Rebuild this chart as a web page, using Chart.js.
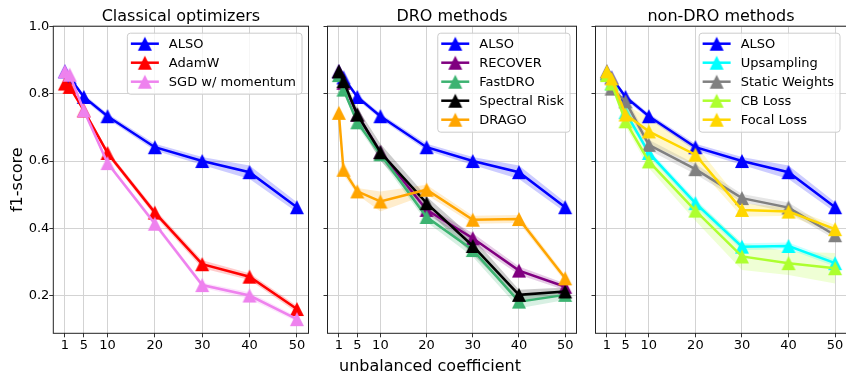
<!DOCTYPE html>
<html>
<head>
<meta charset="utf-8">
<script src="https://cdn.jsdelivr.net/npm/chart.js@4.4.0/dist/chart.umd.min.js"></script>
<style>
  html, body { margin: 0; padding: 0; background: #fff; overflow: hidden; }
  #wrap { position: relative; width: 846px; height: 377px; overflow: hidden; }
  .panel { position: absolute; top: 0; height: 377px; }
  #xlabel { position: absolute; left: 430px; top: 356px; transform: translateX(-50%);
            font: 16px "DejaVu Sans"; line-height: 20px; white-space: nowrap; color: #000; }
</style>
</head>
<body>
<div id="wrap">
  <div class="panel" style="left:0;width:318px"><canvas id="c1" width="318" height="377"></canvas></div>
  <div class="panel" style="left:318px;width:268px"><canvas id="c2" width="268" height="377"></canvas></div>
  <div class="panel" style="left:586px;width:270px"><canvas id="c3" width="270" height="377"></canvas></div>
  <div id="xlabel">unbalanced coefficient</div>
</div>
<script>
// x positions (unbalanced coefficient) and axis ticks
const xValues = [1, 2, 5, 10, 20, 30, 40, 50];
const xTicks = [1, 5, 10, 20, 30, 40, 50];
const yTicks = [0.2, 0.4, 0.6, 0.8, 1.0];

// mean f1-score and spread
const alsoMean   = [0.866, 0.848, 0.790, 0.733, 0.641, 0.600, 0.567, 0.463];
const alsoStd    = [0.005, 0.005, 0.008, 0.008, 0.010, 0.012, 0.020, 0.015];
const adamwMean  = [0.830, 0.820, 0.750, 0.624, 0.447, 0.294, 0.257, 0.161];
const adamwStd   = [0.005, 0.005, 0.008, 0.008, 0.010, 0.012, 0.010, 0.010];
const sgdMean    = [0.866, 0.856, 0.750, 0.594, 0.414, 0.232, 0.201, 0.131];
const sgdStd     = [0.005, 0.005, 0.006, 0.006, 0.008, 0.008, 0.010, 0.008];

const recoverMean  = [0.866, 0.832, 0.737, 0.627, 0.455, 0.371, 0.275, 0.227];
const recoverStd   = [0.005, 0.006, 0.010, 0.010, 0.012, 0.015, 0.012, 0.010];
const fastdroMean  = [0.855, 0.812, 0.715, 0.620, 0.434, 0.336, 0.183, 0.203];
const fastdroStd   = [0.005, 0.008, 0.012, 0.015, 0.015, 0.020, 0.020, 0.015];
const spectralMean = [0.866, 0.837, 0.738, 0.626, 0.475, 0.348, 0.203, 0.213];
const spectralStd  = [0.005, 0.008, 0.020, 0.025, 0.020, 0.025, 0.015, 0.012];
const dragoMean    = [0.743, 0.574, 0.510, 0.480, 0.515, 0.426, 0.428, 0.252];
const dragoStd     = [0.010, 0.015, 0.010, 0.030, 0.015, 0.012, 0.012, 0.010];

const upsampleMean = [0.860, 0.830, 0.745, 0.624, 0.475, 0.346, 0.348, 0.297];
const upsampleStd  = [0.005, 0.008, 0.010, 0.010, 0.012, 0.010, 0.010, 0.010];
const staticMean   = [0.860, 0.815, 0.777, 0.648, 0.576, 0.490, 0.462, 0.380];
const staticStd    = [0.005, 0.010, 0.015, 0.015, 0.015, 0.012, 0.015, 0.012];
const cbMean       = [0.855, 0.830, 0.718, 0.599, 0.453, 0.317, 0.297, 0.282];
const cbStd        = [0.005, 0.010, 0.015, 0.020, 0.030, 0.040, 0.035, 0.045];
const focalMean    = [0.866, 0.845, 0.738, 0.688, 0.619, 0.455, 0.450, 0.398];
const focalStd     = [0.005, 0.010, 0.030, 0.040, 0.030, 0.020, 0.012, 0.012];

const panels = [
  { canvas: 'c1', title: 'Classical optimizers', yWidth: 53.3, rightPad: 4.5, showY: true,
    series: [['ALSO', alsoMean, alsoStd, '#0000ff'],
             ['AdamW', adamwMean, adamwStd, '#ff0000'],
             ['SGD w/ momentum', sgdMean, sgdStd, '#ee82ee']] },
  { canvas: 'c2', title: 'DRO methods', yWidth: 4.7, rightPad: 4.3, showY: false,
    series: [['ALSO', alsoMean, alsoStd, '#0000ff'],
             ['RECOVER', recoverMean, recoverStd, '#800080'],
             ['FastDRO', fastdroMean, fastdroStd, '#3cb371'],
             ['Spectral Risk', spectralMean, spectralStd, '#000000'],
             ['DRAGO', dragoMean, dragoStd, '#ffa500']] },
  { canvas: 'c3', title: 'non-DRO methods', yWidth: 5.3, rightPad: 6, showY: false,
    series: [['ALSO', alsoMean, alsoStd, '#0000ff'],
             ['Upsampling', upsampleMean, upsampleStd, '#00ffff'],
             ['Static Weights', staticMean, staticStd, '#808080'],
             ['CB Loss', cbMean, cbStd, '#adff2f'],
             ['Focal Loss', focalMean, focalStd, '#ffd700']] }
];

Chart.defaults.font.family = 'DejaVu Sans';
Chart.defaults.color = '#000';

function rgba(hex, a) {
  const n = parseInt(hex.slice(1), 16);
  return `rgba(${(n >> 16) & 255}, ${(n >> 8) & 255}, ${n & 255}, ${a})`;
}

// matplotlib-like '^' marker
function triangleMarker(color) {
  const c = document.createElement('canvas');
  c.width = 16; c.height = 16;
  const g = c.getContext('2d');
  g.beginPath();
  g.moveTo(8, 1); g.lineTo(15, 15); g.lineTo(1, 15); g.closePath();
  g.fillStyle = color; g.fill();
  return c;
}

// axes frame on all four sides
const framePlugin = {
  id: 'frame',
  afterDraw(chart) {
    const { ctx, chartArea: a } = chart;
    ctx.save();
    ctx.strokeStyle = '#222';
    ctx.lineWidth = 1;
    ctx.strokeRect(a.left, a.top, a.right - a.left, a.bottom - a.top);
    ctx.restore();
  }
};

// legend box in the upper right corner of the plot area
const boxLegend = {
  id: 'boxLegend',
  afterDatasetsDraw(chart) {
    const items = chart.data.datasets.filter(d => !d.isBand);
    const { ctx, chartArea: a } = chart;
    ctx.save();
    ctx.font = '13px "DejaVu Sans"';
    const textW = Math.max(...items.map(d => ctx.measureText(d.label).width));
    const rowH = 19;
    const w = 3.5 + 28 + 10 + textW + 6;
    const h = 10.5 + (items.length - 1) * rowH + 12.5;
    const x0 = a.right - 6.5 - w, y0 = a.top + 7;
    ctx.beginPath();
    ctx.roundRect(x0, y0, w, h, 3);
    ctx.fillStyle = 'rgba(255,255,255,0.8)';
    ctx.fill();
    ctx.strokeStyle = '#cccccc';
    ctx.lineWidth = 1;
    ctx.stroke();
    items.forEach((d, i) => {
      const y = y0 + 10.5 + i * rowH;
      ctx.beginPath();
      ctx.moveTo(x0 + 3.5, y);
      ctx.lineTo(x0 + 31.5, y);
      ctx.strokeStyle = d.borderColor;
      ctx.lineWidth = 2.5;
      ctx.stroke();
      ctx.drawImage(d.pointStyle, x0 + 17.5 - 8, y - 8);
      ctx.fillStyle = '#000';
      ctx.textBaseline = 'middle';
      ctx.fillText(d.label, x0 + 41.5, y + 0.5);
    });
    ctx.restore();
  }
};

panels.forEach(p => {
  const datasets = [];
  p.series.forEach(([label, mean, std, color], i) => {
    datasets.push({
      isBand: true, label: label + ' hi',
      data: xValues.map((x, k) => ({ x, y: mean[k] + std[k] })),
      borderWidth: 0, pointRadius: 0, fill: false, order: 100
    });
    datasets.push({
      isBand: true, label: label + ' lo',
      data: xValues.map((x, k) => ({ x, y: mean[k] - std[k] })),
      borderWidth: 0, pointRadius: 0, fill: '-1', backgroundColor: rgba(color, 0.2), order: 100
    });
    datasets.push({
      label: label,
      data: xValues.map((x, k) => ({ x, y: mean[k] })),
      borderColor: color,
      backgroundColor: color,
      borderWidth: 2.5,
      pointStyle: triangleMarker(color),
      pointRadius: 7,
      tension: 0,
      order: -i
    });
  });

  new Chart(document.getElementById(p.canvas), {
    type: 'line',
    data: { datasets },
    plugins: [framePlugin, boxLegend],
    options: {
      responsive: false,
      animation: false,
      events: [],
      layout: { padding: { left: 0, right: p.rightPad, top: 0, bottom: 0 } },
      plugins: {
        legend: { display: false },
        tooltip: { enabled: false },
        title: {
          display: true, text: p.title, fullSize: false, color: '#000',
          font: { size: 16, weight: 'normal' }, padding: { top: 7, bottom: 0 }
        }
      },
      scales: {
        x: {
          type: 'linear', min: -1.45, max: 52.45,
          afterBuildTicks: s => { s.ticks = xTicks.map(v => ({ value: v })); },
          afterFit: s => { s.height = 43.7; s.paddingLeft = 0; s.paddingRight = 0; },
          border: { display: false },
          grid: { color: '#d3d3d3', lineWidth: 1, tickLength: 4, tickColor: '#333' },
          ticks: { font: { size: 13 }, color: '#000', padding: 1, maxRotation: 0, autoSkip: false }
        },
        y: {
          type: 'linear', min: 0.089, max: 1.0,
          afterBuildTicks: s => { s.ticks = yTicks.map(v => ({ value: v })); },
          afterFit: s => { s.width = p.yWidth; s.paddingTop = 0; s.paddingBottom = 0; },
          border: { display: false },
          grid: { color: '#d3d3d3', lineWidth: 1, tickLength: 4, tickColor: '#333' },
          ticks: { display: p.showY, font: { size: 13 }, color: '#000', padding: 0,
                   callback: v => v.toFixed(1) },
          title: { display: p.showY, text: 'f1-score', font: { size: 16 },
                   padding: { top: 8.4, bottom: 0 } }
        }
      }
    }
  });
});
</script>
</body>
</html>
